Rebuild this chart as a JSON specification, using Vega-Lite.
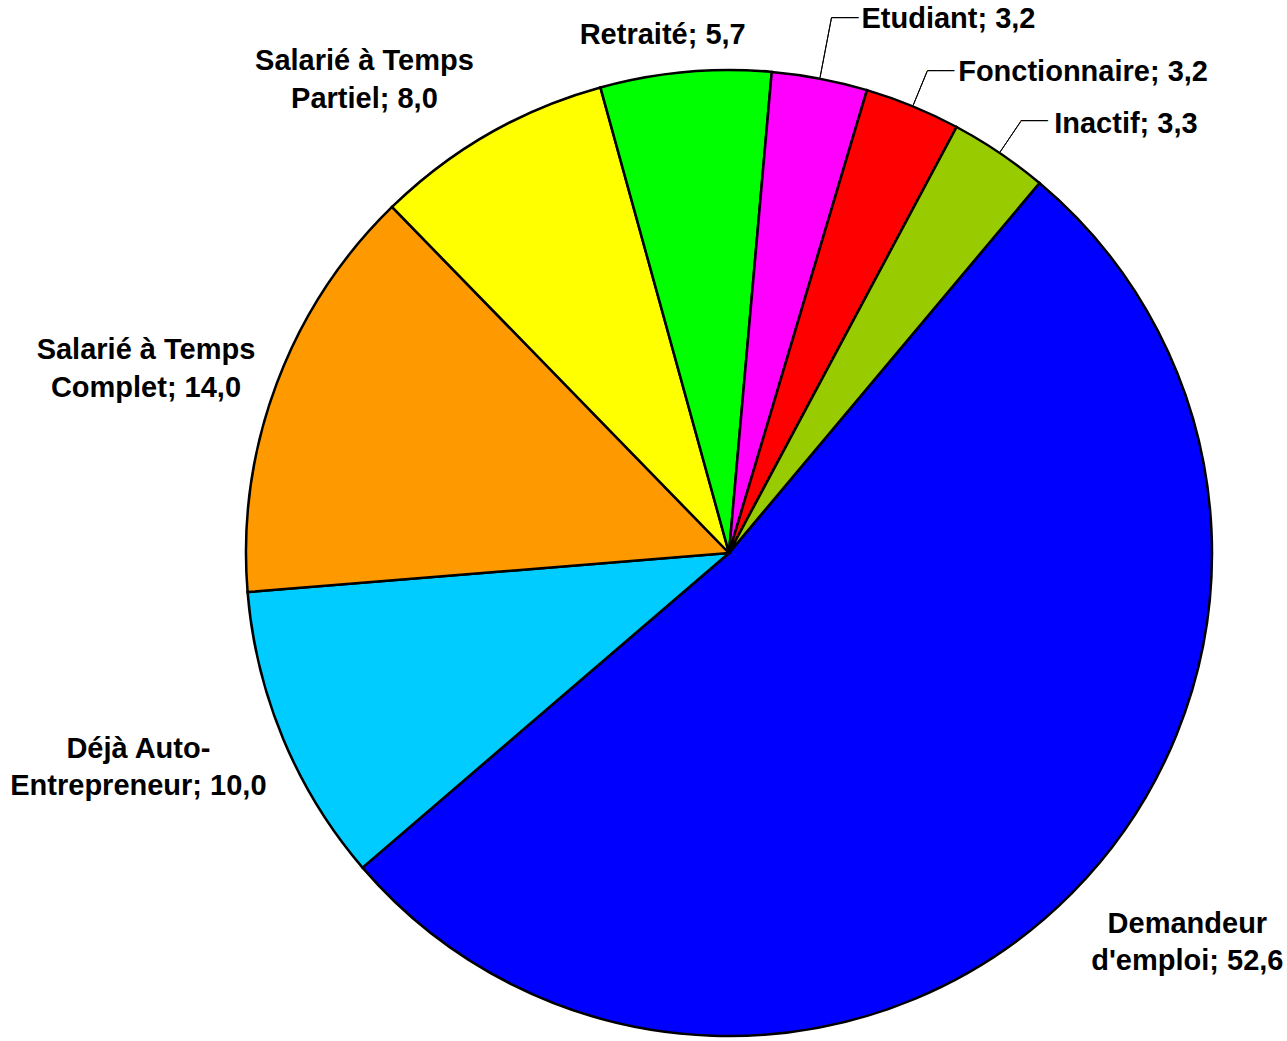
{
  "$schema": "https://vega.github.io/schema/vega-lite/v6.json",
  "width": 400,
  "height": 400,
  "autosize": "none",
  "padding": {"left": 529, "top": 353, "right": 358, "bottom": 288},
  "background": "white",
  "config": {
    "view": {"stroke": null},
    "text": {"font": "Liberation Sans", "fontWeight": "bold", "fontSize": 29, "lineHeight": 37.5, "lineBreak": "\n", "baseline": "middle", "color": "#000"}
  },
  "data": {
    "values": [
      {"cat": "Demandeur d'emploi", "value": 52.6, "order": 1, "label": "Demandeur\nd'emploi; 52,6"},
      {"cat": "Déjà Auto-Entrepreneur", "value": 10.0, "order": 2, "label": "Déjà Auto-\nEntrepreneur; 10,0"},
      {"cat": "Salarié à Temps Complet", "value": 14.0, "order": 3, "label": "Salarié à Temps\nComplet; 14,0"},
      {"cat": "Salarié à Temps Partiel", "value": 8.0, "order": 4, "label": "Salarié à Temps\nPartiel; 8,0"},
      {"cat": "Retraité", "value": 5.7, "order": 5, "label": "Retraité; 5,7"},
      {"cat": "Etudiant", "value": 3.2, "order": 6, "label": "Etudiant; 3,2"},
      {"cat": "Fonctionnaire", "value": 3.2, "order": 7, "label": "Fonctionnaire; 3,2"},
      {"cat": "Inactif", "value": 3.3, "order": 8, "label": "Inactif; 3,3"}
    ]
  },
  "encoding": {
    "theta": {"field": "value", "type": "quantitative", "stack": true, "scale": {"range": [0.6981, 6.9813]}},
    "order": {"field": "order", "type": "quantitative"},
    "detail": {"field": "cat", "type": "nominal"}
  },
  "layer": [
    {
      "mark": {"type": "arc", "radius": 483, "stroke": "#000", "strokeWidth": 2.5},
      "encoding": {
        "color": {
          "field": "cat", "type": "nominal", "legend": null,
          "scale": {
            "domain": ["Demandeur d'emploi", "Déjà Auto-Entrepreneur", "Salarié à Temps Complet", "Salarié à Temps Partiel", "Retraité", "Etudiant", "Fonctionnaire", "Inactif"],
            "range": ["#0000FF", "#00CCFF", "#FF9900", "#FFFF00", "#00FF00", "#FF00FF", "#FF0000", "#99CC00"]
          }
        }
      }
    },
    {
      "mark": {"type": "arc", "radius": 545, "radius2": 484, "padAngle": 1.5, "fill": "white", "fillOpacity": 0, "stroke": "#000", "strokeWidth": 1},
      "encoding": {"strokeOpacity": {"condition": {"test": "datum.order === 6", "value": 1}, "value": 0}}
    },
    {
      "mark": {"type": "arc", "radius": 521, "radius2": 484, "padAngle": 1.5, "fill": "white", "fillOpacity": 0, "stroke": "#000", "strokeWidth": 1},
      "encoding": {"strokeOpacity": {"condition": {"test": "datum.order === 7 || datum.order === 8", "value": 1}, "value": 0}}
    },
    {
      "mark": {"type": "text", "radius": 545, "align": "left", "font": "DejaVu Sans", "fontWeight": "normal", "fontSize": 15},
      "encoding": {"text": {"condition": {"test": "datum.order === 6", "value": "───"}, "value": ""}}
    },
    {
      "mark": {"type": "text", "radius": 521, "align": "left", "font": "DejaVu Sans", "fontWeight": "normal", "fontSize": 15},
      "encoding": {"text": {"condition": {"test": "datum.order === 7 || datum.order === 8", "value": "───"}, "value": ""}}
    },
    {
      "mark": {"type": "text", "radius": 601, "dx": 31, "dy": -52, "align": "center"},
      "encoding": {"text": {"condition": {"test": "datum.order === 1", "field": "label", "type": "nominal"}, "value": ""}}
    },
    {
      "mark": {"type": "text", "radius": 628, "dx": -11, "dy": -46, "align": "center"},
      "encoding": {"text": {"condition": {"test": "datum.order === 2", "field": "label", "type": "nominal"}, "value": ""}}
    },
    {
      "mark": {"type": "text", "radius": 612, "dx": -10, "dy": 12, "align": "center"},
      "encoding": {"text": {"condition": {"test": "datum.order === 3", "field": "label", "type": "nominal"}, "value": ""}}
    },
    {
      "mark": {"type": "text", "radius": 598, "dx": -67, "dy": 27, "align": "center"},
      "encoding": {"text": {"condition": {"test": "datum.order === 4", "field": "label", "type": "nominal"}, "value": ""}}
    },
    {
      "mark": {"type": "text", "radius": 524, "dx": -19, "dy": 4, "align": "center"},
      "encoding": {"text": {"condition": {"test": "datum.order === 5", "field": "label", "type": "nominal"}, "value": ""}}
    },
    {
      "mark": {"type": "text", "radius": 545, "dx": 30, "dy": 1, "align": "left"},
      "encoding": {"text": {"condition": {"test": "datum.order === 6", "field": "label", "type": "nominal"}, "value": ""}}
    },
    {
      "mark": {"type": "text", "radius": 521, "dx": 31, "dy": 1, "align": "left"},
      "encoding": {"text": {"condition": {"test": "datum.order === 7", "field": "label", "type": "nominal"}, "value": ""}}
    },
    {
      "mark": {"type": "text", "radius": 520, "dx": 34, "dy": 2, "align": "left"},
      "encoding": {"text": {"condition": {"test": "datum.order === 8", "field": "label", "type": "nominal"}, "value": ""}}
    }
  ]
}
